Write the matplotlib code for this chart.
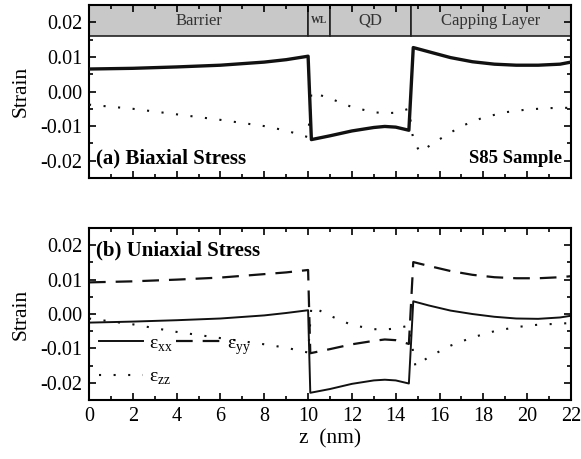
import numpy as np
import matplotlib
matplotlib.use('Agg')
import matplotlib.pyplot as plt
from matplotlib.ticker import MultipleLocator

# Layer structure (header band of panel a)
layer_edges = [0, 10, 11, 14.7, 22]
layer_names = ['Barrier', 'WL', 'QD', 'Capping Layer']

# (a) Biaxial stress
z_a = [0, 2, 4, 6, 8, 9, 9.5, 10, 10.15, 11, 12, 13, 13.5, 14, 14.6, 14.8,
       15.5, 16.5, 17.5, 18.5, 19.5, 20.5, 21.5, 22]
exx_a = [0.0065, 0.0067, 0.0071, 0.0076, 0.0085, 0.0092, 0.0097, 0.0102, -0.0139,
         -0.0128, -0.0114, -0.0104, -0.0101, -0.0103, -0.0112, 0.0127,
         0.0115, 0.0098, 0.0086, 0.0079, 0.0076, 0.0076, 0.0079, 0.0085]
z_a_zz = [0, 2, 4, 6, 8, 9, 10, 10.15, 11, 12, 13, 13.6, 14, 14.6, 14.8, 15.1,
          16, 17, 18, 19, 20, 21, 22]
ezz_a = [-0.0038, -0.0050, -0.0066, -0.0082, -0.0100, -0.0113, -0.0132, -0.0002,
         -0.0020, -0.0045, -0.0060, -0.0063, -0.0061, -0.0050, -0.0140, -0.0175,
         -0.0138, -0.0100, -0.0075, -0.0060, -0.0052, -0.0048, -0.0047]

# (b) Uniaxial stress
z_b = [0, 2, 4, 6, 8, 9, 10, 10.1, 11, 12, 13, 13.5, 14, 14.6, 14.8,
       15.5, 16.5, 17.5, 18.5, 19.5, 20.5, 21.5, 22]
exx_b = [-0.0025, -0.0022, -0.0018, -0.0013, -0.0004, 0.0003, 0.0011, -0.0229,
         -0.0218, -0.0203, -0.0193, -0.0191, -0.0193, -0.0202, 0.0037,
         0.0025, 0.0010, 0.0000, -0.0008, -0.0013, -0.0014, -0.0010, -0.0005]
eyy_b = [0.0092, 0.0095, 0.0100, 0.0106, 0.0116, 0.0121, 0.0128, -0.0114,
         -0.0102, -0.0088, -0.0078, -0.0074, -0.0076, -0.0087, 0.0151,
         0.0140, 0.0125, 0.0114, 0.0107, 0.0104, 0.0104, 0.0107, 0.0110]
z_b_zz = [0, 2, 4, 6, 8, 9, 10, 10.15, 11, 12, 13, 13.5, 14, 14.6, 14.9,
          15.5, 16.5, 17.5, 18.5, 19.5, 20.5, 21.5, 22]
ezz_b = [-0.0013, -0.0030, -0.0052, -0.0070, -0.0088, -0.0098, -0.0112, 0.0022,
         -0.0005, -0.0032, -0.0044, -0.0045, -0.0042, -0.0034, -0.0152,
         -0.0125, -0.0092, -0.0068, -0.0050, -0.0038, -0.0031, -0.0028, -0.0026]

plt.rcParams['font.family'] = 'serif'
plt.rcParams['font.serif'] = ['Liberation Serif', 'DejaVu Serif']
plt.rcParams['mathtext.fontset'] = 'custom'
plt.rcParams['mathtext.rm'] = 'Liberation Serif'
plt.rcParams['font.size'] = 14

fig = plt.figure(figsize=(5.81, 4.59), dpi=100)
ax1 = fig.add_axes([0.1532, 0.6122, 0.8296, 0.3769])
ax2 = fig.add_axes([0.1532, 0.1285, 0.8296, 0.3747])

dots = (0, (1, 6))
dashes = (0, (7.5, 4.5))

for ax in (ax1, ax2):
    ax.set_xlim(0, 22)
    ax.set_ylim(-0.025, 0.025)
    ax.xaxis.set_major_locator(MultipleLocator(2))
    ax.xaxis.set_minor_locator(MultipleLocator(1))
    ax.yaxis.set_major_locator(MultipleLocator(0.01))
    ax.yaxis.set_minor_locator(MultipleLocator(0.005))
    ax.yaxis.set_major_formatter(plt.FormatStrFormatter('%.2f'))
    ax.tick_params(which='both', direction='in', top=True, right=True, width=1.2,
                   labelsize=14.5)
    ax.tick_params(which='major', length=5, pad=5)
    ax.tick_params(which='minor', length=3)
    for s in ax.spines.values():
        s.set_linewidth(1.5)
    ax.set_ylabel('Strain', fontsize=15.5, labelpad=7)

# panel (a)
widths = np.diff(layer_edges)
ax1.bar(layer_edges[:-1], [0.009] * len(widths), width=widths, bottom=0.016,
        align='edge', color='#c8c8c8', edgecolor='#222222', linewidth=1.2, zorder=1)
for left, w, name in zip(layer_edges[:-1], widths, layer_names):
    if name == 'WL':
        ax1.text(left + w / 2, 0.0205, name, ha='center', va='center',
                 fontsize=7, fontweight='bold', color='#333333')
    else:
        ax1.text(left + w / 2, 0.0205, name, ha='center', va='center',
                 fontsize=12, color='#333333')
ax1.plot(z_a, exx_a, color='#111111', lw=2.4, zorder=3)
ax1.plot(z_a_zz, ezz_a, color='#111111', lw=1.5, ls=dots, zorder=3)
ax1.tick_params(labelbottom=False)
ax1.text(0.3, -0.0195, '(a) Biaxial Stress', fontsize=15, fontweight='bold',
         va='center', ha='left')
ax1.text(21.6, -0.0195, 'S85 Sample', fontsize=13.5, fontweight='bold',
         va='center', ha='right')

# panel (b)
l1, = ax2.plot(z_b, exx_b, color='#111111', lw=1.4, label='ε$_{\\mathrm{xx}}$')
l2, = ax2.plot(z_b, eyy_b, color='#111111', lw=1.6, ls=dashes,
               label='ε$_{\\mathrm{yy}}$')
l3, = ax2.plot(z_b_zz, ezz_b, color='#111111', lw=1.5, ls=dots,
               label='ε$_{\\mathrm{zz}}$')
ax2.text(0.3, 0.0185, '(b) Uniaxial Stress', fontsize=15, fontweight='bold',
         va='center', ha='left')
ax2.legend(handles=[l1, l3, l2], ncol=2, loc='upper left',
           bbox_to_anchor=(0.02, 0.38), frameon=False, borderpad=0,
           borderaxespad=0, handlelength=2.3, handletextpad=0.3,
           columnspacing=0.15, labelspacing=0.75, fontsize=14)
ax2.set_xlabel('z  (nm)', fontsize=15.5, labelpad=2)

plt.savefig('out.png', dpi=100)
